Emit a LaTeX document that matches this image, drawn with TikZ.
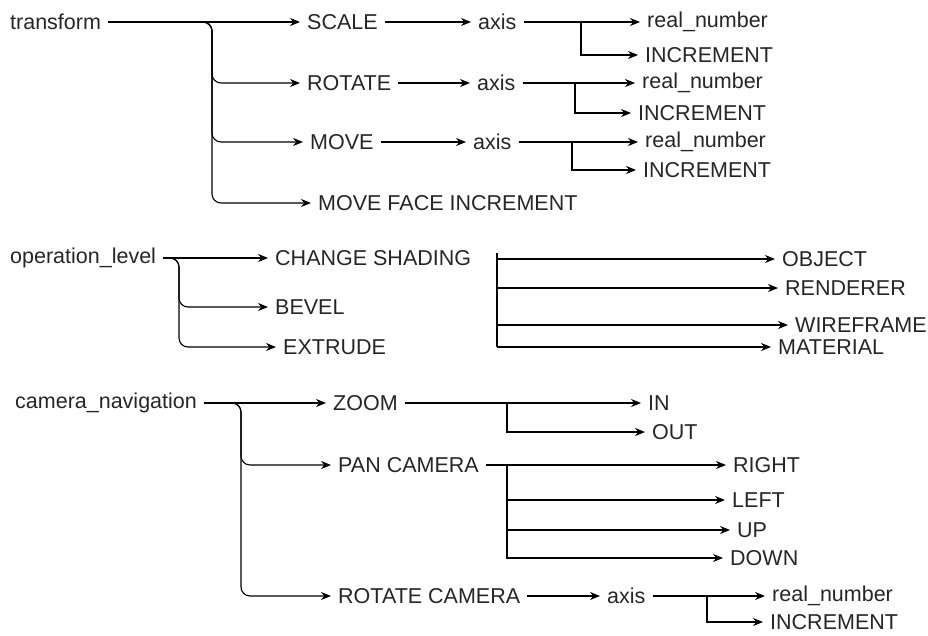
\documentclass[tikz,border=0pt]{standalone}
\usepackage{fontspec}
\setmainfont{Liberation Sans}
\usetikzlibrary{arrows.meta}
\begin{document}
\begin{tikzpicture}[>={Stealth[length=10pt,width=8pt]}, x=1pt, y=-1pt,
    lbl/.style={anchor=west, inner xsep=7pt, inner ysep=2pt, text=black!85,
        font=\fontsize{21.5}{24}\selectfont},
    arr/.style={->, line width=1.1pt},
    branch/.style={arr, rounded corners=9pt}]
\useasboundingbox (0,0) rectangle (928,635);
% transform
\node[lbl] (transform) at (3,22) {transform};
\node[lbl] (scale) at (300,22) {SCALE};
\node[lbl] (rotate) at (300,83) {ROTATE};
\node[lbl] (move) at (303,142) {MOVE};
\node[lbl] (moveface) at (311,203) {MOVE FACE INCREMENT};
\node[lbl] (axisA) at (471,22) {axis};
\node[lbl] (axisB) at (470,83) {axis};
\node[lbl] (axisC) at (466,142) {axis};
\node[lbl] (realA) at (640,22) {real\_number};
\node[lbl] (incA) at (638,55) {INCREMENT};
\node[lbl] (realB) at (635,83) {real\_number};
\node[lbl] (incB) at (631,113) {INCREMENT};
\node[lbl] (realC) at (638,142) {real\_number};
\node[lbl] (incC) at (636,170) {INCREMENT};
\coordinate (tT) at (212,22);
\coordinate (jA) at (581,22);
\coordinate (jB) at (575,83);
\coordinate (jC) at (572,142);
\draw[arr] (transform) -- (scale);
\foreach \n in {rotate,move,moveface}
    \draw[branch] (transform) -- (tT) |- (\n);
\draw[arr] (scale) -- (axisA);
\draw[arr] (rotate) -- (axisB);
\draw[arr] (move) -- (axisC);
\draw[arr] (axisA) -- (realA);
\draw[arr] (jA) |- (incA);
\draw[arr] (axisB) -- (realB);
\draw[arr] (jB) |- (incB);
\draw[arr] (axisC) -- (realC);
\draw[arr] (jC) |- (incC);
% operation_level
\node[lbl] (oplevel) at (3,258) {operation\_level};
\node[lbl] (shading) at (268,258) {CHANGE SHADING};
\node[lbl] (bevel) at (268,307) {BEVEL};
\node[lbl] (extrude) at (276,347) {EXTRUDE};
\coordinate (tO) at (179,258);
\draw[arr] (oplevel) -- (shading);
\foreach \n in {bevel,extrude}
    \draw[branch] (oplevel) -- (tO) |- (\n);
\node[lbl] (object) at (775,259) {OBJECT};
\node[lbl] (renderer) at (778,288) {RENDERER};
\node[lbl] (wireframe) at (788,325) {WIREFRAME};
\node[lbl] (material) at (771,347) {MATERIAL};
\coordinate (bk) at (497,253);
\draw[line width=1.1pt] (bk) -- (bk |- material);
\foreach \n in {object,renderer,wireframe,material}
    \draw[arr] (bk |- \n) -- (\n);
% camera_navigation
\node[lbl] (camnav) at (8,403) {camera\_navigation};
\node[lbl] (zoom) at (326,403) {ZOOM};
\node[lbl] (pan) at (331,465) {PAN CAMERA};
\node[lbl] (rotcam) at (331,596) {ROTATE CAMERA};
\coordinate (tC) at (241,403);
\draw[arr] (camnav) -- (zoom);
\foreach \n in {pan,rotcam}
    \draw[branch] (camnav) -- (tC) |- (\n);
\node[lbl] (zin) at (641,403) {IN};
\node[lbl] (zout) at (645,432) {OUT};
\coordinate (jZ) at (507,403);
\draw[arr] (zoom) -- (zin);
\draw[arr] (jZ) |- (zout);
\node[lbl] (right) at (726,465) {RIGHT};
\node[lbl] (left) at (725,500) {LEFT};
\node[lbl] (up) at (730,530) {UP};
\node[lbl] (down) at (723,558) {DOWN};
\coordinate (jP) at (507,465);
\draw[arr] (pan) -- (right);
\foreach \n in {left,up,down}
    \draw[arr] (jP) |- (\n);
\node[lbl] (axisD) at (600,596) {axis};
\node[lbl] (realD) at (765,596) {real\_number};
\node[lbl] (incD) at (763,622) {INCREMENT};
\coordinate (jD) at (707,596);
\draw[arr] (rotcam) -- (axisD);
\draw[arr] (axisD) -- (realD);
\draw[arr] (jD) |- (incD);
\end{tikzpicture}
\end{document}
